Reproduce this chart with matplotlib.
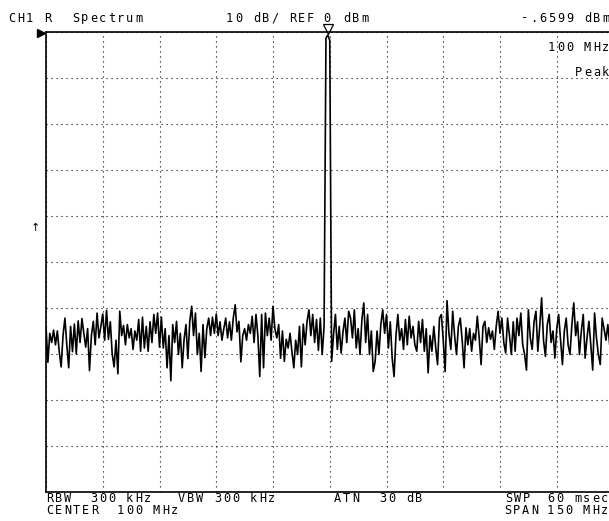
import numpy as np
import matplotlib.pyplot as plt

# analyser settings
start_mhz = 25.0
step_mhz = 0.5
ref_dbm = 0
db_per_div = 10
marker_mhz = 99.5
marker_dbm = -0.6599

# trace level (dBm), one value per 0.5 MHz from 25 MHz
level_dbm = [
    -64.0, -71.8, -65.5, -67.5, -64.8, -68.0, -65.0, -69.5, -72.8, -66.0,
    -62.2, -68.0, -73.0, -64.0, -69.5, -63.5, -70.0, -62.8, -67.5, -62.3,
    -65.5, -68.5, -64.5, -73.6, -66.0, -62.9, -68.0, -61.1, -66.5, -64.0,
    -61.3, -67.0, -60.5, -66.8, -63.0, -70.0, -72.8, -67.0, -74.3, -60.7,
    -66.0, -63.8, -68.0, -63.6, -66.5, -64.5, -69.0, -65.0, -67.0, -62.5,
    -69.4, -62.0, -68.7, -64.0, -69.4, -63.0, -67.5, -61.4, -65.5, -61.1,
    -68.5, -62.0, -68.7, -64.5, -73.0, -66.0, -75.8, -63.6, -67.5, -62.9,
    -70.1, -65.5, -73.0, -66.8, -63.6, -71.0, -62.9, -59.6, -66.0, -61.1,
    -70.1, -65.5, -73.8, -63.6, -70.8, -64.5, -62.2, -66.0, -62.0, -65.5,
    -61.3, -66.0, -63.0, -67.0, -64.5, -62.2, -66.5, -63.0, -67.0, -62.2,
    -59.3, -65.2, -62.9, -71.7, -66.0, -64.5, -67.0, -63.6, -65.5, -61.8,
    -67.5, -61.4, -66.0, -74.9, -61.4, -73.0, -61.1, -66.0, -62.2, -67.0,
    -59.6, -64.5, -66.5, -63.6, -70.9, -65.0, -71.6, -66.8, -68.7, -65.5,
    -69.4, -73.0, -67.0, -70.1, -64.0, -72.8, -63.5, -68.0, -62.9, -60.4,
    -66.0, -61.4, -67.5, -62.5, -69.2, -62.2, -70.1,
    -64.0, -1.3, -0.66, -1.8,
    -71.6, -65.8, -61.4, -69.0, -64.0, -69.8, -65.2, -62.2, -67.5, -60.7,
    -62.2, -66.5, -60.4, -68.7, -64.5, -70.1, -62.5, -58.9, -67.5, -61.4,
    -70.1, -65.0, -73.8, -71.6, -65.0, -70.1, -63.6, -60.4, -65.5, -61.4,
    -68.7, -63.0, -70.9, -74.9, -66.0, -61.4, -67.0, -64.5, -69.0, -62.5,
    -68.0, -61.8, -66.5, -64.0, -68.0, -69.4, -62.9, -67.5, -62.5, -69.4,
    -64.5, -74.1, -66.0, -69.4, -64.0, -68.5, -72.3, -62.2, -61.4, -67.0,
    -73.8, -58.4, -65.5, -69.0, -60.7, -66.0, -70.1, -64.0, -62.2, -67.0,
    -73.0, -64.3, -68.0, -64.5, -69.4, -65.5, -67.0, -61.8, -66.5, -72.3,
    -64.0, -62.9, -67.5, -64.3, -66.8, -65.0, -69.0, -64.0, -60.7, -65.5,
    -62.2, -67.5, -69.8, -62.2, -66.0, -70.1, -63.0, -69.4, -62.2, -66.0,
    -61.1, -68.0, -70.1, -73.5, -60.4, -66.5, -69.0, -63.0, -60.7, -69.4,
    -64.0, -57.8, -67.0, -70.5, -63.6, -61.4, -67.5, -65.0, -70.9, -64.5,
    -61.4, -67.0, -72.3, -65.0, -62.2, -68.0, -70.1, -63.6, -58.9, -66.0,
    -63.0, -70.1, -65.0, -61.4, -70.9, -66.5, -62.9, -68.0, -73.5, -61.1,
    -66.5, -70.1, -72.3, -62.2, -64.5, -67.0, -63.6, -68.0, -65.0, -66.0,
]

# screen annotations: (x px, y px, text, align)
labels = [
    (7, 18, "CH1", "left"),
    (43, 18, "R", "left"),
    (71, 18, "Spectrum", "left"),
    (225, 18, "10 dB/ REF", "left"),
    (322, 18, "0", "left"),
    (342, 18, "dBm", "left"),
    (610, 18, "-.6599 dBm", "right"),
    (610, 47, "100 MHz", "right"),
    (610, 73, "Peak", "right"),
    (45, 498, "RBW", "left"),
    (89, 498, "300 kHz", "left"),
    (177, 498, "VBW 300 kHz", "left"),
    (333, 498, "ATN", "left"),
    (378, 498, "30 dB", "left"),
    (504, 498, "SWP", "left"),
    (546, 498, "60 msec", "left"),
    (45, 510, "CENTER", "left"),
    (116, 510, "100 MHz", "left"),
    (503, 510, "SPAN", "left"),
    (546, 510, "150 MHz", "left"),
]

W, H = 609, 521
CHAR = 9  # pixel advance of the instrument font


def mono(fig, x, y, s, align="left"):
    # place characters on a fixed 9 px pitch like the analyser screen
    if align == "right":
        x = x - CHAR * len(s)
    for i, c in enumerate(s):
        if c == " ":
            continue
        fig.text((x + i * CHAR + CHAR / 2) / W, 1 - y / H, c,
                 ha="center", va="center", fontsize=8.6,
                 family="DejaVu Sans Mono", color="black")


freq = start_mhz + step_mhz * np.arange(len(level_dbm))

fig = plt.figure(figsize=(W / 100, H / 100), dpi=100)
ax = fig.add_axes([46 / W, 29 / H, 567.5 / W, 460 / H])

ax.plot(freq, level_dbm, color="black", lw=1.2)

ax.set_xlim(25, 175)
ax.set_ylim(ref_dbm - 10 * db_per_div, ref_dbm)
ax.set_xticks(np.arange(25, 176, 15))
ax.set_yticks(np.arange(-100, 1, db_per_div))
ax.tick_params(length=0, labelbottom=False, labelleft=False)
ax.grid(True, color="black", lw=0.8, linestyle=(0, (1, 3.5)))
for sp in ax.spines.values():
    sp.set_linewidth(1.2)

# marker and reference-level pointers
ax.plot([marker_mhz], [marker_dbm + 1.3], marker="v", ms=7, mfc="white",
        mec="black", mew=0.9, clip_on=False)
ax.plot([23.6], [-0.2], marker=">", ms=6, color="black", clip_on=False)
fig.text(35 / W, 1 - 228 / H, "\u2191", ha="center", va="center",
         fontsize=8, family="DejaVu Sans")

for x, y, s, a in labels:
    mono(fig, x, y, s, a)

fig.savefig("out.png", dpi=100)
